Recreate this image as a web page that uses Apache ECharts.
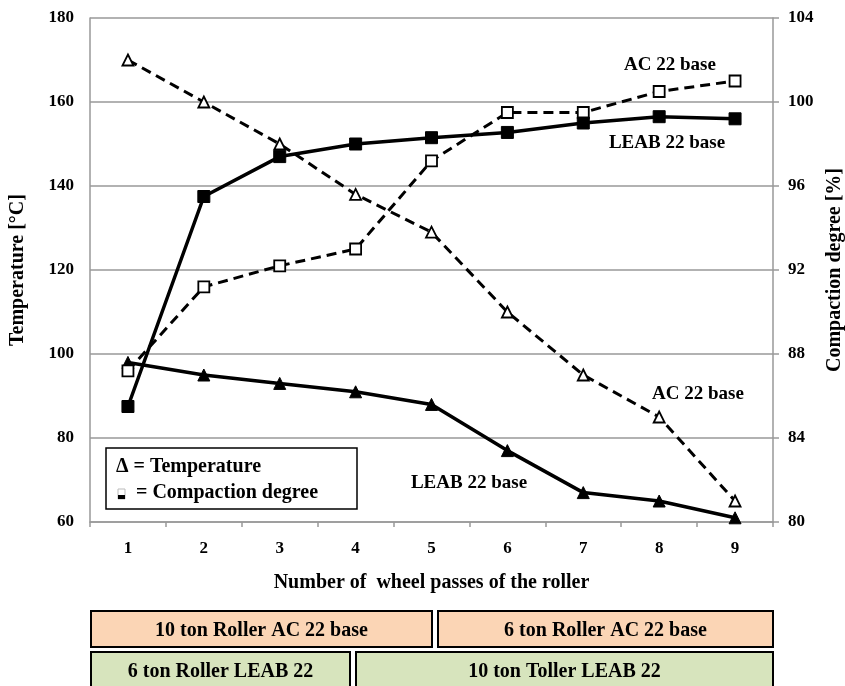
<!DOCTYPE html>
<html>
<head>
<meta charset="utf-8">
<script src="https://cdn.jsdelivr.net/npm/echarts@6/dist/echarts.min.js"></script>
<style>
html,body{margin:0;padding:0;background:#fff;overflow:hidden;}
#chart{width:845px;height:686px;}
</style>
</head>
<body>
<div id="chart"></div>
<script>
// ---- data ----
const passes = ['1','2','3','4','5','6','7','8','9'];
const tempAC = [170, 160, 150, 138, 129, 110, 95, 85, 65];
const tempLEAB = [98, 95, 93, 91, 88, 77, 67, 65, 61];
const compAC = [87.2, 91.2, 92.2, 93.0, 97.2, 99.5, 99.5, 100.5, 101.0];
const compLEAB = [85.5, 95.5, 97.4, 98.0, 98.3, 98.55, 99.0, 99.3, 99.2];
const tempTicks = {min: 60, max: 180, interval: 20};
const compTicks = {min: 80, max: 104, interval: 4};

const FONT = "'Liberation Serif','Times New Roman',serif";
const chart = echarts.init(document.getElementById('chart'), null, {renderer: 'canvas', width: 845, height: 686});

function txt(x, y, s, size) {
  return {type: 'text', x: x, y: y, style: {text: s, font: 'bold ' + size + 'px ' + FONT, fill: '#000', align: 'center', verticalAlign: 'middle'}, z: 10};
}
function box(x, y, w, h, fill, label) {
  return {type: 'group', x: x, y: y, children: [
    {type: 'rect', shape: {x: 0, y: 0, width: w, height: h}, style: {fill: fill, stroke: '#000', lineWidth: 2}},
    {type: 'text', x: w / 2, y: 19.5, style: {text: label, font: 'bold 20px ' + FONT, fill: '#000', align: 'center', verticalAlign: 'middle'}}
  ]};
}

const option = {
  animation: false,
  backgroundColor: '#fff',
  grid: {left: 90, right: 72, top: 18, bottom: 164, containLabel: false, outerBoundsMode: 'none'},
  xAxis: {
    type: 'category', data: passes, boundaryGap: true,
    name: 'Number of  wheel passes of the roller', nameLocation: 'middle', nameGap: 51,
    nameTextStyle: {fontFamily: FONT, fontWeight: 'bold', fontSize: 20, color: '#000'},
    axisLine: {lineStyle: {color: '#999', width: 1.5}},
    axisTick: {show: true, inside: false, length: 5, lineStyle: {color: '#999', width: 1.5}},
    axisLabel: {fontFamily: FONT, fontWeight: 'bold', fontSize: 17, color: '#000', margin: 18}
  },
  yAxis: [
    {
      type: 'value', min: tempTicks.min, max: tempTicks.max, interval: tempTicks.interval, position: 'left',
      name: 'Temperature [°C]', nameLocation: 'middle', nameGap: 62, nameRotate: 90,
      nameTextStyle: {fontFamily: FONT, fontWeight: 'bold', fontSize: 20, color: '#000'},
      axisLine: {show: true, lineStyle: {color: '#999', width: 1.5}},
      axisTick: {show: false},
      splitLine: {show: true, lineStyle: {color: '#999', width: 1.5}},
      axisLabel: {fontFamily: FONT, fontWeight: 'bold', fontSize: 17, color: '#000', margin: 16}
    },
    {
      type: 'value', min: compTicks.min, max: compTicks.max, interval: compTicks.interval, position: 'right',
      name: 'Compaction degree [%]', nameLocation: 'middle', nameGap: 50, nameRotate: 90,
      nameTextStyle: {fontFamily: FONT, fontWeight: 'bold', fontSize: 20, color: '#000'},
      axisLine: {show: true, lineStyle: {color: '#999', width: 1.5}},
      axisTick: {show: true, length: 6, lineStyle: {color: '#999', width: 1.5}},
      splitLine: {show: false},
      axisLabel: {fontFamily: FONT, fontWeight: 'bold', fontSize: 17, color: '#000', margin: 15}
    }
  ],
  series: [
    {name: 'AC temp', type: 'line', yAxisIndex: 0, data: tempAC, symbol: 'triangle', symbolSize: 11,
      lineStyle: {color: '#000', width: 3, type: [10, 6]}, itemStyle: {color: '#fff', borderColor: '#000', borderWidth: 1.8}, z: 3},
    {name: 'LEAB temp', type: 'line', yAxisIndex: 0, data: tempLEAB, symbol: 'triangle', symbolSize: 12,
      lineStyle: {color: '#000', width: 3.5}, itemStyle: {color: '#000', borderColor: '#000', borderWidth: 1}, z: 3},
    {name: 'AC comp', type: 'line', yAxisIndex: 1, data: compAC, symbol: 'rect', symbolSize: 11,
      lineStyle: {color: '#000', width: 3, type: [10, 6]}, itemStyle: {color: '#fff', borderColor: '#000', borderWidth: 1.8}, z: 3},
    {name: 'LEAB comp', type: 'line', yAxisIndex: 1, data: compLEAB, symbol: 'rect', symbolSize: 12,
      lineStyle: {color: '#000', width: 3.5}, itemStyle: {color: '#000', borderColor: '#000', borderWidth: 1}, z: 3}
  ],
  graphic: [
    // series annotations
    txt(670, 65, 'AC 22 base', 19),
    txt(667, 143, 'LEAB 22 base', 19),
    txt(698, 394, 'AC 22 base', 19),
    txt(469, 483, 'LEAB 22 base', 19),
    // legend box
    {type: 'rect', x: 106, y: 448, shape: {width: 251, height: 61}, style: {fill: '#fff', stroke: '#000', lineWidth: 1.5}, z: 9},
    {type: 'text', x: 116, y: 467, style: {text: 'Δ = Temperature', font: 'bold 20px ' + FONT, fill: '#000', verticalAlign: 'middle'}, z: 10},
    {type: 'rect', x: 118, y: 489, shape: {width: 7, height: 10}, style: {fill: '#fff', stroke: '#bbb', lineWidth: 1}, z: 10},
    {type: 'rect', x: 118, y: 495, shape: {width: 7, height: 4}, style: {fill: '#000'}, z: 11},
    {type: 'text', x: 136, y: 493, style: {text: '= Compaction degree', font: 'bold 20px ' + FONT, fill: '#000', verticalAlign: 'middle'}, z: 10},
    // bottom boxes
    box(91, 611, 341, 36, '#FBD5B5', '10 ton Roller AC 22 base'),
    box(438, 611, 335, 36, '#FBD5B5', '6 ton Roller AC 22 base'),
    box(91, 652, 259, 40, '#D7E4BD', '6 ton Roller LEAB 22'),
    box(356, 652, 417, 40, '#D7E4BD', '10 ton Toller LEAB 22')
  ]
};
chart.setOption(option);
</script>
</body>
</html>
